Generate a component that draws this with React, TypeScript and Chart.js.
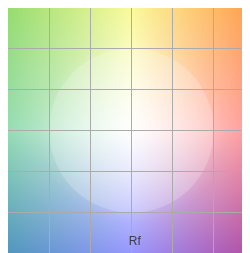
import React, { useEffect, useRef } from "react";
import { Chart, registerables } from "chart.js";
Chart.register(...registerables);

// Axis range / grid ticks (data units)
const axisMin = [-3];
const axisMax = [3];
// Reference circle radius (data units)
const refCircleRadius = [2];
// Labels
const labelTexts = ["Rf"];
const labelX = [0.08];
const labelY = [-2.78];

// Background colour field: 3x3 control colours (rows top->bottom, cols left->right)
const bgControl: number[][][] = [
  [[150, 220, 110], [250, 250, 154], [255, 155, 75]],
  [[150, 220, 180], [255, 255, 255], [255, 150, 150]],
  [[80, 150, 190], [150, 150, 255], [180, 75, 160]],
];

function makeBackground(w: number, h: number): HTMLCanvasElement {
  const off = document.createElement("canvas");
  off.width = Math.max(1, Math.round(w));
  off.height = Math.max(1, Math.round(h));
  const octx = off.getContext("2d")!;
  const img = octx.createImageData(off.width, off.height);
  const d = img.data;
  for (let y = 0; y < off.height; y++) {
    const v = ((y + 0.5) / off.height) * 2 - 1;
    const row = v < 0 ? 0 : 2;
    const t = Math.abs(v);
    for (let x = 0; x < off.width; x++) {
      const u = ((x + 0.5) / off.width) * 2 - 1;
      const col = u < 0 ? 0 : 2;
      const s = Math.abs(u);
      const C = bgControl[1][1];
      const Ex = bgControl[1][col];
      const Ey = bgControl[row][1];
      const K = bgControl[row][col];
      const r = Math.hypot(u, v);
      const extra = Math.max(0, 0.45 * (1 - r / 0.75));
      const i = (y * off.width + x) * 4;
      for (let c = 0; c < 3; c++) {
        let val = (1 - s) * (1 - t) * C[c] + s * (1 - t) * Ex[c] + (1 - s) * t * Ey[c] + s * t * K[c];
        val = val + (255 - val) * extra;
        d[i + c] = val;
      }
      d[i + 3] = 255;
    }
  }
  octx.putImageData(img, 0, 0);
  return off;
}

const bgPlugin = {
  id: "cvgBackground",
  beforeDraw(chart: any) {
    const { ctx, chartArea, scales } = chart;
    const { left, top, right, bottom } = chartArea;
    const cx = scales.x.getPixelForValue(0);
    const cy = scales.y.getPixelForValue(0);
    ctx.save();
    const bg = makeBackground(right - left, bottom - top);
    ctx.drawImage(bg, left, top, right - left, bottom - top);
    const r = scales.x.getPixelForValue(refCircleRadius[0]) - cx;
    ctx.beginPath();
    ctx.arc(cx, cy, r, 0, Math.PI * 2);
    ctx.fillStyle = "rgba(255,255,255,0.2)";
    ctx.fill();
    ctx.restore();
  },
  afterDraw(chart: any) {
    const { ctx, scales } = chart;
    ctx.save();
    ctx.font = "12px Arial, 'Liberation Sans', sans-serif";
    ctx.fillStyle = "#3c3c4a";
    ctx.textAlign = "center";
    ctx.textBaseline = "alphabetic";
    labelTexts.forEach((t, i) => {
      ctx.fillText(t, scales.x.getPixelForValue(labelX[i]), scales.y.getPixelForValue(labelY[i]));
    });
    ctx.restore();
  },
};

export default function App() {
  const ref = useRef<HTMLCanvasElement>(null);
  useEffect(() => {
    if (!ref.current) return;
    const gridColor = (c: any) =>
      c.tick && (c.tick.value === axisMin[0] || c.tick.value === axisMax[0]) ? "rgba(0,0,0,0)" : "#ababab";
    const chart = new Chart(ref.current, {
      type: "scatter",
      data: {
        datasets: [
          {
            label: labelTexts[0],
            data: labelX.map((x, i) => ({ x, y: labelY[i] })),
            pointRadius: 0,
          },
        ],
      },
      options: {
        animation: false,
        responsive: false,
        layout: { padding: 0 },
        plugins: { legend: { display: false }, tooltip: { enabled: false } },
        scales: {
          x: {
            min: axisMin[0],
            max: axisMax[0],
            ticks: { display: false, stepSize: 1 },
            grid: { color: gridColor, drawTicks: false, lineWidth: 1 },
            border: { display: false },
          },
          y: {
            min: axisMin[0],
            max: axisMax[0],
            ticks: { display: false, stepSize: 1 },
            grid: { color: gridColor, drawTicks: false, lineWidth: 1 },
            border: { display: false },
          },
        },
      },
      plugins: [bgPlugin],
    });
    return () => chart.destroy();
  }, []);
  return (
    <div style={{ marginTop: -1 }}>
      <canvas ref={ref} width={247} height={247} style={{ display: "block" }} />
    </div>
  );
}
